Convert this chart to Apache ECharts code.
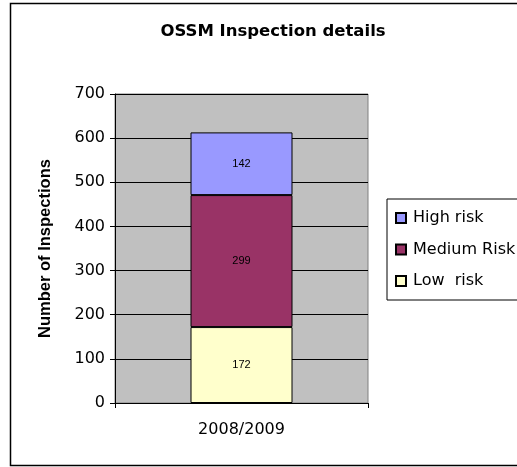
<!DOCTYPE html>
<html>
<head>
<meta charset="utf-8">
<script src="https://cdn.jsdelivr.net/npm/echarts@6/dist/echarts.min.js"></script>
<style>
  html, body { margin: 0; padding: 0; background: #fff; }
  #main { width: 517px; height: 467px; }
</style>
</head>
<body>
<div id="main"></div>
<script>
// data
var categories = ['2008/2009'];
var lowRisk = [172];
var mediumRisk = [299];
var highRisk = [142];
var yTicks = [0, 100, 200, 300, 400, 500, 600, 700];

// the source text looks horizontally stretched, DejaVu gets the widths right
var wideFont = 'DejaVu Sans, Liberation Sans, sans-serif';
var arial = 'Liberation Sans, Arial, sans-serif';
var chart = echarts.init(document.getElementById('main'), null, { renderer: 'canvas' });

function seriesOf(name, data, color) {
  return {
    name: name,
    type: 'bar',
    stack: 'all',
    data: data,
    barWidth: 102,
    itemStyle: { color: color, borderColor: '#000', borderWidth: 1 },
    label: {
      show: true,
      position: 'inside',
      color: '#000',
      fontSize: 11,
      fontFamily: arial
    }
  };
}

var option = {
  animation: false,
  backgroundColor: '#fff',
  textStyle: { fontFamily: wideFont },
  title: {
    text: 'OSSM Inspection details',
    left: 268,
    textAlign: 'center',
    top: 18,
    textStyle: { fontSize: 16.5, fontWeight: 'bold', color: '#000', fontFamily: wideFont }
  },
  // outer chart frame
  graphic: [{
    type: 'rect',
    shape: { x: 10.5, y: 3.5, width: 520, height: 462 },
    style: { fill: null, stroke: '#000', lineWidth: 1.5 },
    silent: true
  }],
  legend: {
    orient: 'vertical',
    left: 387,
    top: 199,
    padding: [11, 80, 11, 8],
    borderColor: '#000',
    borderWidth: 1,
    itemGap: 15.5,
    itemWidth: 10,
    itemHeight: 10,
    icon: 'rect',
    data: ['High risk', 'Medium Risk', 'Low  risk'],
    textStyle: { fontSize: 16, color: '#000', fontFamily: wideFont, padding: [0, 0, 0, 2] }
  },
  grid: {
    left: 115,
    top: 94,
    right: 149,
    bottom: 64,
    show: true,
    backgroundColor: '#c0c0c0',
    borderColor: '#808080',
    borderWidth: 1
  },
  xAxis: {
    type: 'category',
    data: categories,
    axisLine: { lineStyle: { color: '#000' } },
    axisTick: { show: true, length: 5, lineStyle: { color: '#000' } },
    axisLabel: { fontSize: 16, color: '#000', margin: 19, fontFamily: wideFont },
    splitLine: { show: false }
  },
  yAxis: {
    type: 'value',
    min: yTicks[0],
    max: yTicks[yTicks.length - 1],
    interval: yTicks[1] - yTicks[0],
    name: 'Number of Inspections',
    nameLocation: 'middle',
    nameGap: 61,
    nameTextStyle: { fontSize: 16.5, fontWeight: 'bold', color: '#000', fontFamily: arial },
    axisLine: { show: true, lineStyle: { color: '#000' } },
    axisTick: { show: true, length: 5, lineStyle: { color: '#000' } },
    axisLabel: { fontSize: 16, color: '#000', margin: 10, fontFamily: wideFont },
    splitLine: { show: true, lineStyle: { color: '#000', width: 1 } }
  },
  series: [
    seriesOf('Low  risk', lowRisk, '#ffffcc'),
    seriesOf('Medium Risk', mediumRisk, '#993366'),
    seriesOf('High risk', highRisk, '#9999ff')
  ]
};

chart.setOption(option);
</script>
</body>
</html>
